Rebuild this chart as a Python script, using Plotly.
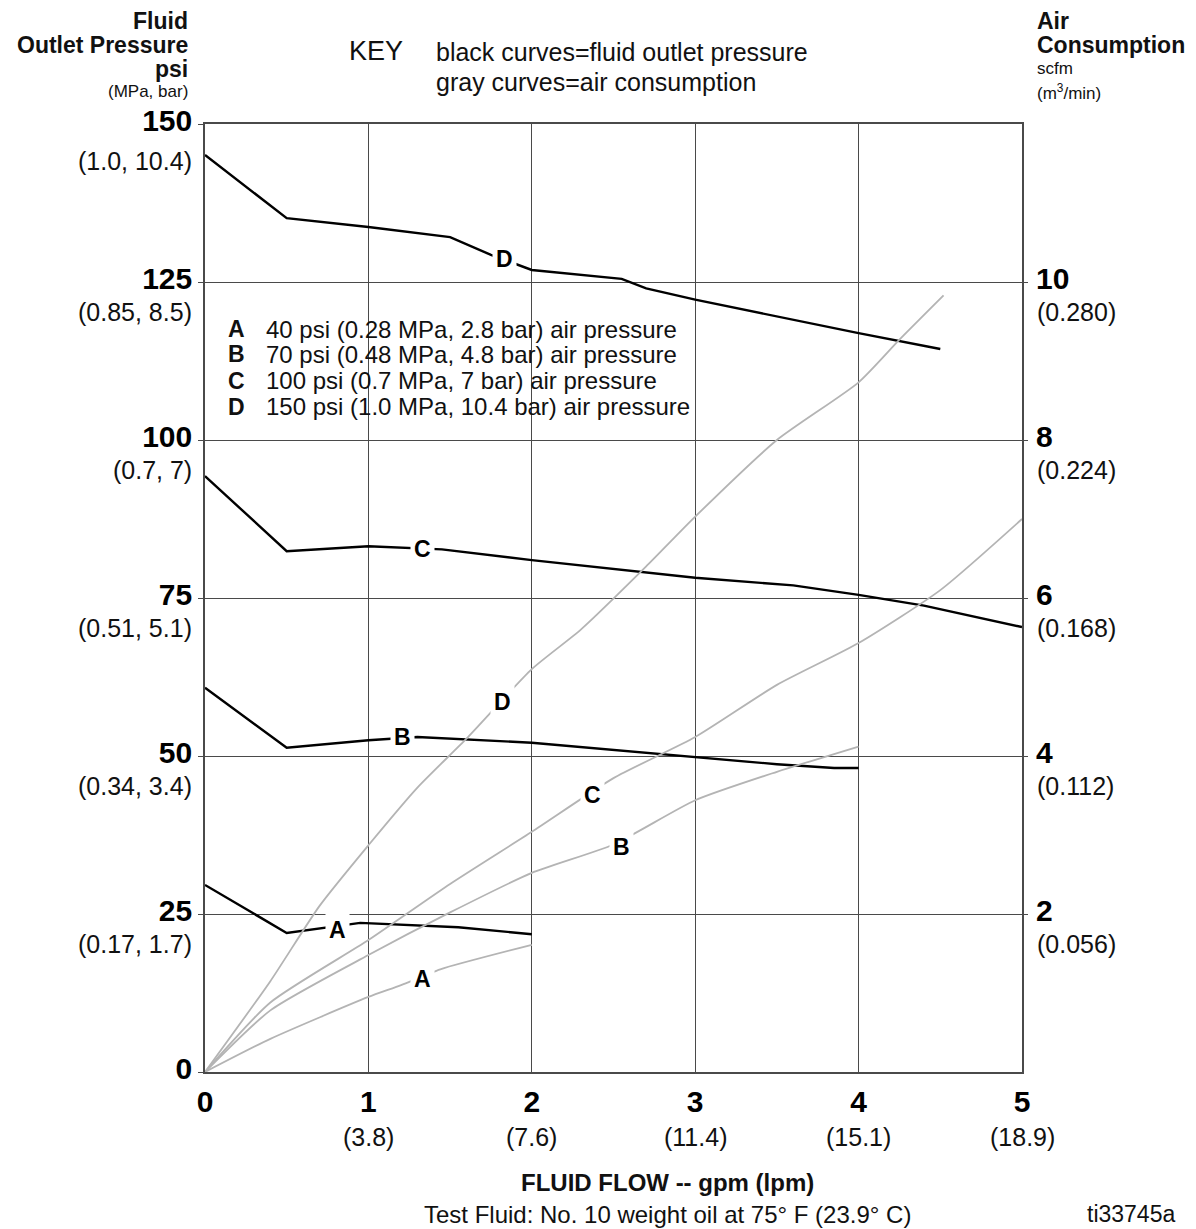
import plotly.graph_objects as go

# ---------------- data ----------------
# black curves: fluid outlet pressure (psi) vs fluid flow (gpm)
flow_A_p = [0, 0.5, 0.95, 1.25, 1.55, 2.0]
psi_A = [29.6, 22.0, 23.6, 23.3, 22.9, 21.8]
flow_B_p = [0, 0.5, 1.0, 1.3, 2.0, 2.5, 3.0, 3.5, 3.85, 4.0]
psi_B = [60.8, 51.3, 52.5, 53.0, 52.1, 51.0, 49.8, 48.7, 48.1, 48.1]
flow_C_p = [0, 0.5, 1.0, 1.45, 2.0, 2.55, 3.0, 3.6, 4.0, 4.4, 5.0]
psi_C = [94.3, 82.4, 83.2, 82.7, 81.0, 79.5, 78.2, 77.0, 75.5, 73.8, 70.4]
flow_D_p = [0, 0.5, 1.0, 1.5, 1.75, 2.0, 2.55, 2.7, 3.0, 3.5, 4.0, 4.5]
psi_D = [145.1, 135.1, 133.7, 132.1, 129.3, 126.9, 125.5, 124.0, 122.2, 119.5, 116.9, 114.4]

# gray curves: air consumption (scfm) vs fluid flow (gpm)
flow_A_a = [0, 0.4, 1.0, 1.2, 1.44, 2.0]
scfm_A = [0, 0.42, 0.95, 1.1, 1.3, 1.61]
flow_B_a = [0, 0.4, 1.0, 1.5, 2.0, 2.5, 3.0, 3.5, 4.0]
scfm_B = [0, 0.78, 1.48, 2.02, 2.52, 2.88, 3.44, 3.8, 4.12]
flow_C_a = [0, 0.4, 1.0, 1.5, 2.0, 2.5, 3.0, 3.5, 4.0, 4.5, 5.0]
scfm_C = [0, 0.88, 1.67, 2.38, 3.04, 3.72, 4.24, 4.9, 5.43, 6.1, 7.0]
flow_D_a = [0, 0.4, 0.7, 1.0, 1.3, 1.6, 2.0, 2.3, 2.7, 3.0, 3.5, 4.0, 4.25, 4.52]
scfm_D = [0, 1.15, 2.1, 2.87, 3.6, 4.22, 5.1, 5.6, 6.4, 7.03, 8.0, 8.73, 9.27, 9.83]

# curve label letters and their positions on the curves
curve_letters = ["A", "B", "C", "D"]
p_label_flow = [0.81, 1.21, 1.33, 1.83]
p_label_psi = [22.5, 53.0, 82.8, 128.6]
a_label_flow = [1.33, 2.55, 2.37, 1.82]
a_label_scfm = [1.18, 2.85, 3.51, 4.68]

# axes ticks
x_ticks = [0, 1, 2, 3, 4, 5]
x_tick_lpm = ["", "(3.8)", "(7.6)", "(11.4)", "(15.1)", "(18.9)"]
y_ticks = [0, 25, 50, 75, 100, 125, 150]
y_tick_sub = ["", "(0.17, 1.7)", "(0.34, 3.4)", "(0.51, 5.1)", "(0.7, 7)", "(0.85, 8.5)", "(1.0, 10.4)"]
y2_ticks = [2, 4, 6, 8, 10]
y2_tick_sub = ["(0.056)", "(0.112)", "(0.168)", "(0.224)", "(0.280)"]

legend_letters = ["A", "B", "C", "D"]
legend_texts = [
    "40 psi (0.28 MPa, 2.8 bar) air pressure",
    "70 psi (0.48 MPa, 4.8 bar) air pressure",
    "100 psi (0.7 MPa, 7 bar) air pressure",
    "150 psi (1.0 MPa, 10.4 bar) air pressure",
]

# ---------------- figure ----------------
OFF = 8                      # page body margin of the browser
W, H = 1196 - OFF, 1229 - OFF
L, R, T, B = 205 - OFF, 1022 - OFF, 124 - OFF, 1072 - OFF
FONT = "Liberation Sans, Arial, Helvetica, sans-serif"
GRID = "#4a4a4a"
GRAY = "#b4b4b4"


def pxx(x):
    return (x - OFF - L) / (R - L)


def pxy(y):
    return (B - (y - OFF)) / (B - T)


fig = go.Figure()

for fx, fy in [(flow_A_a, scfm_A), (flow_B_a, scfm_B), (flow_C_a, scfm_C), (flow_D_a, scfm_D)]:
    fig.add_trace(go.Scatter(x=fx, y=fy, yaxis="y2", mode="lines",
                             line=dict(color=GRAY, width=1.8, shape="spline", smoothing=0.6),
                             hoverinfo="skip", showlegend=False))

for fx, fy in [(flow_A_p, psi_A), (flow_B_p, psi_B), (flow_C_p, psi_C), (flow_D_p, psi_D)]:
    fig.add_trace(go.Scatter(x=fx, y=fy, mode="lines",
                             line=dict(color="#000000", width=2.4),
                             hoverinfo="skip", showlegend=False))

ann = []
# curve labels (white box makes the gap in the line)
for t, xv, yv in zip(curve_letters, p_label_flow, p_label_psi):
    ann.append(dict(x=xv, y=yv, xref="x", yref="y", text="<b>%s</b>" % t, showarrow=False,
                    font=dict(family=FONT, size=23, color="#000"), bgcolor="white", borderpad=3))
for t, xv, yv in zip(curve_letters, a_label_flow, a_label_scfm):
    ann.append(dict(x=xv, y=yv, xref="x", yref="y2", text="<b>%s</b>" % t, showarrow=False,
                    font=dict(family=FONT, size=23, color="#000"), bgcolor="white", borderpad=3))

# secondary tick labels
for v, s in zip(y_ticks, y_tick_sub):
    if s:
        ann.append(dict(x=0, y=v, xref="paper", yref="y", text=s, showarrow=False,
                        xanchor="right", yanchor="middle", xshift=-11,
                        yshift=(-37 if v == 150 else -30),
                        font=dict(family=FONT, size=25, color="#111")))
for v, s in zip(y2_ticks, y2_tick_sub):
    ann.append(dict(x=1, y=v, xref="paper", yref="y2", text=s, showarrow=False,
                    xanchor="left", yanchor="middle", xshift=13, yshift=-30,
                    font=dict(family=FONT, size=25, color="#111")))
for v, s in zip(x_ticks, x_tick_lpm):
    if s:
        ann.append(dict(x=v, y=0, xref="x", yref="paper", text=s, showarrow=False,
                        xanchor="center", yanchor="middle", yshift=-65,
                        font=dict(family=FONT, size=25, color="#111")))


def text_at(x, y, s, size, bold=False, xanchor="left", color="#111"):
    ann.append(dict(x=pxx(x), y=pxy(y), xref="paper", yref="paper",
                    text=("<b>%s</b>" % s) if bold else s, showarrow=False,
                    xanchor=xanchor, yanchor="middle", borderpad=0,
                    font=dict(family=FONT, size=size, color=color)))


# left axis title
text_at(189, 21, "Fluid", 23, True, "right")
text_at(189, 45, "Outlet Pressure", 23, True, "right")
text_at(189, 69, "psi", 23, True, "right")
text_at(189, 92, "(MPa, bar)", 17, False, "right")
# right axis title
text_at(1036, 21, "Air", 23, True)
text_at(1036, 45, "Consumption", 23, True)
text_at(1036, 69, "scfm", 17)
text_at(1036, 92, "(m<sup>3</sup>/min)", 17)
# key
text_at(348, 51, "KEY", 27)
text_at(435, 52, "black curves=fluid outlet pressure", 25)
text_at(435, 82, "gray curves=air consumption", 25)
# in-plot legend
for i, (lt, tx) in enumerate(zip(legend_letters, legend_texts)):
    yy = [329, 354, 381, 407][i]
    text_at(236, yy, lt, 23, True, "center")
    text_at(265, yy, tx, 24)
# bottom titles
text_at(667, 1182, "FLUID FLOW -- gpm (lpm)", 24, True, "center")
text_at(667, 1214, "Test Fluid: No. 10 weight oil at 75° F (23.9° C)", 24, False, "center")
text_at(1176, 1214, "ti33745a", 23, False, "right")

fig.update_layout(
    width=W, height=H,
    margin=dict(l=L, r=W - R, t=T, b=H - B, pad=0),
    paper_bgcolor="white", plot_bgcolor="white",
    showlegend=False,
    font=dict(family=FONT, color="#111"),
    annotations=ann,
    xaxis=dict(range=[0, 5], tickmode="array", tickvals=x_ticks,
               ticktext=[str(v) for v in x_ticks],
               tickfont=dict(family=FONT, size=30, weight="bold", color="#000"),
               showgrid=True, gridcolor=GRID, gridwidth=1.3,
               showline=True, linecolor=GRID, linewidth=1.6, mirror=True,
               ticks="", ticklabelstandoff=2, zeroline=False, fixedrange=True),
    yaxis=dict(range=[0, 150], tickmode="array", tickvals=y_ticks,
               ticktext=[str(v) for v in y_ticks],
               tickfont=dict(family=FONT, size=30, weight="bold", color="#000"),
               showgrid=True, gridcolor=GRID, gridwidth=1.3,
               showline=True, linecolor=GRID, linewidth=1.6, mirror=True,
               ticks="outside", ticklen=5, tickcolor=GRID, tickwidth=1.3,
               ticklabelstandoff=0, ticklabelshift=-4, zeroline=False, fixedrange=True),
    yaxis2=dict(range=[0, 12], overlaying="y", side="right", tickmode="array",
                tickvals=y2_ticks, ticktext=[str(v) for v in y2_ticks],
                tickfont=dict(family=FONT, size=30, weight="bold", color="#000"),
                showgrid=False, showline=False, zeroline=False,
                ticks="outside", ticklen=5, tickcolor=GRID, tickwidth=1.3,
                ticklabelstandoff=2, ticklabelshift=-4, fixedrange=True),
)

fig.write_html("out.html")
